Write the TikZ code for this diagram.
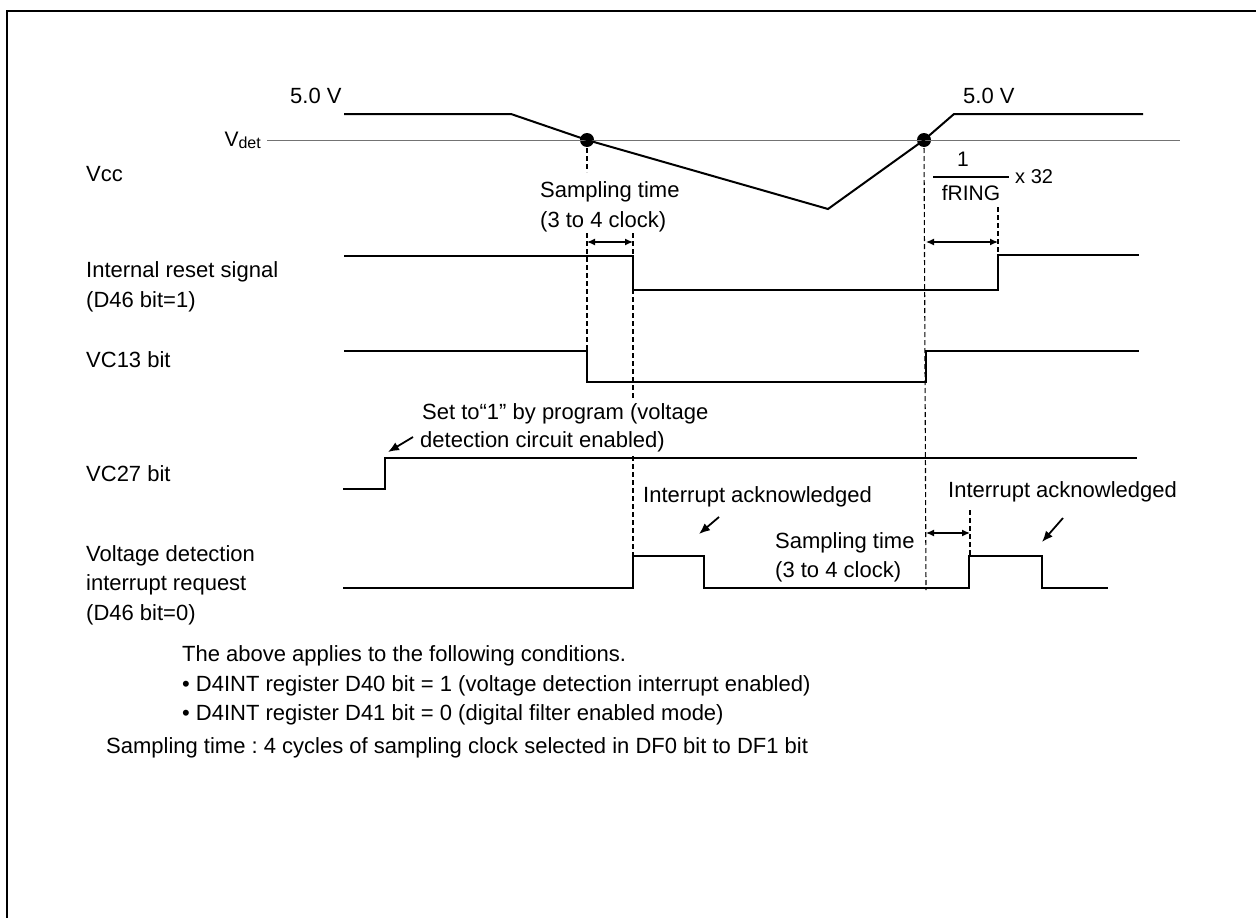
\documentclass[tikz,border=0pt]{standalone}
\usepackage{fontspec}
\setmainfont{Liberation Sans}
\usetikzlibrary{arrows.meta}
\frenchspacing
\begin{document}
\begin{tikzpicture}[x=1pt,y=-1pt,
  wave/.style={line width=2pt, line join=miter},
  refline/.style={line width=1pt, black!55},
  guide/.style={line width=1.1pt, dash pattern=on 5pt off 3pt},
  dimarrow/.style={line width=1.3pt, {Latex[length=8pt,width=7pt]}-{Latex[length=8pt,width=7pt]}},
  pointer/.style={line width=1.8pt, -{Latex[length=11pt,width=9pt]}},
  lbl/.style={anchor=base west, inner sep=0pt, font=\fontsize{22}{26}\selectfont},
  dot/.style={circle, fill=black, inner sep=0pt, minimum size=14pt}
]
\useasboundingbox (0,0) rectangle (1256,918);
\draw[line width=2.5pt] (7,918) -- (7,11) -- (1256,11);

% Vcc waveform
\node[dot] (d1) at (587,140) {};
\node[dot] (d2) at (924,140) {};
\coordinate (vmin) at (828,209);
\draw[refline] (267,140) -- (1180,140);
\draw[wave] (344,114) -- (511,114) -- (d1.center) -- (vmin) -- (d2.center) -- (954,114) -- (1143,114);

\node[lbl] (v1) at (290,103) {5.0 V};
\node[lbl] (v2) at (963,103) {5.0 V};
\node[anchor=base east, inner sep=0pt] (vdet) at (261,146) {\fontsize{21}{24}\selectfont V\fontsize{16}{18}\selectfont\raisebox{-2pt}{det}};

% guide lines
\draw[guide] (d1.center) -- (587,172);
\draw[guide] (587,233) -- (587,382);
\draw[guide] (633,233) -- (633,400);
\draw[guide] (633,456) -- (633,556);
\draw[guide] (d2.center) -- (926,590);
\draw[guide] (998,207) -- (998,255);
\draw[guide] (970,510) -- (970,556);

% waveforms
\draw[wave] (344,256) -- (633,256) -- (633,290) -- (998,290) -- (998,255) -- (1139,255);
\draw[wave] (344,351) -- (587,351) -- (587,382) -- (926,382) -- (926,351) -- (1139,351);
\draw[wave] (343,489) -- (385,489) -- (385,458) -- (1137,458);
\draw[wave] (343,588) -- (633,588) -- (633,556) -- (704,556) -- (704,588) -- (969,588) -- (969,556) -- (1042,556) -- (1042,588) -- (1108,588);

% dimension arrows
\coordinate (a1) at (587,242); \coordinate (a2) at (633,242);
\coordinate (a3) at (926,242); \coordinate (a4) at (998,242);
\coordinate (a5) at (926,533); \coordinate (a6) at (970,533);
\draw[dimarrow] (a1) -- (a2);
\draw[dimarrow] (a3) -- (a4);
\draw[dimarrow] (a5) -- (a6);

% fraction
\node[anchor=base, inner sep=0pt, font=\fontsize{21}{24}\selectfont] (one) at (963,166) {1};
\draw[line width=1.3pt] (933,177) -- (1009,177);
\node[anchor=base, inner sep=0pt, font=\fontsize{21}{24}\selectfont] (fring) at (971,200) {fRING};
\node[anchor=base west, inner sep=0pt, font=\fontsize{20}{24}\selectfont] (x32) at (1015,183) {x 32};

% sampling labels
\node[lbl] (s1a) at (540,197) {Sampling time};
\node[lbl] (s1b) at (540,227) {(3 to 4 clock)};
\node[lbl] (s2a) at (775,548) {Sampling time};
\node[lbl] (s2b) at (775,577) {(3 to 4 clock)};

% annotations
\node[lbl] (set1) at (422,419) {Set to“1” by program (voltage};
\node[lbl] (set2) at (420,447) {detection circuit enabled)};
\coordinate (p1s) at (413,437); \coordinate (p1e) at (388,452);
\draw[pointer] (p1s) -- (p1e);
\node[lbl] (ia1) at (643,502) {Interrupt acknowledged};
\coordinate (p2s) at (719,517); \coordinate (p2e) at (699,534);
\draw[pointer] (p2s) -- (p2e);
\node[lbl] (ia2) at (948,497) {Interrupt acknowledged};
\coordinate (p3s) at (1063,518); \coordinate (p3e) at (1042,542);
\draw[pointer] (p3s) -- (p3e);

% signal names
\node[lbl] (vcc) at (86,181) {Vcc};
\node[lbl] (rst1) at (86,277) {Internal reset signal};
\node[lbl] (rst2) at (86,307) {(D46 bit=1)};
\node[lbl] (vc13) at (86,367) {VC13 bit};
\node[lbl] (vc27) at (86,481) {VC27 bit};
\node[lbl] (irq1) at (86,561) {Voltage detection};
\node[lbl] (irq2) at (86,590) {interrupt request};
\node[lbl] (irq3) at (86,620) {(D46 bit=0)};

% notes
\node[lbl] (n1) at (182,661) {The above applies to the following conditions.};
\node[lbl] (n2) at (182,691) {• D4INT register D40 bit = 1 (voltage detection interrupt enabled)};
\node[lbl] (n3) at (182,720) {• D4INT register D41 bit = 0 (digital filter enabled mode)};
\node[lbl] (n4) at (106,753) {Sampling time : 4 cycles of sampling clock selected in DF0 bit to DF1 bit};
\end{tikzpicture}
\end{document}
